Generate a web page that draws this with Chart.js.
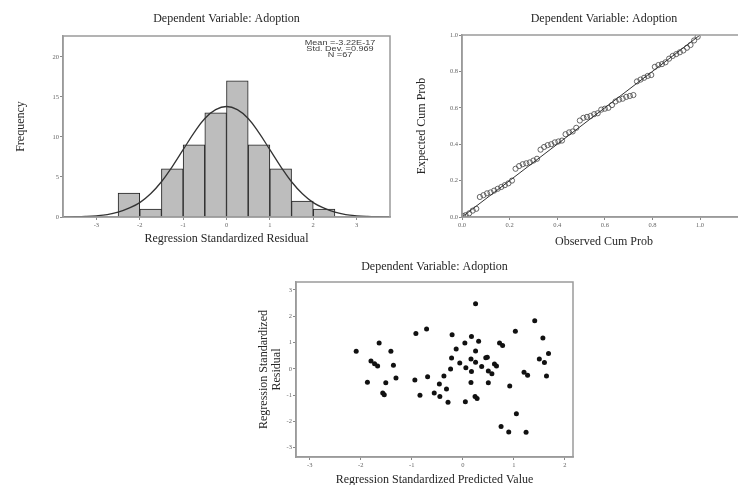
<!DOCTYPE html>
<html><head><meta charset="utf-8">
<script src="https://cdn.jsdelivr.net/npm/chart.js@4.4.0/dist/chart.umd.min.js"></script>
<style>
html,body{margin:0;padding:0;background:#fff;width:738px;height:485px;overflow:hidden;position:relative}
canvas{position:absolute}
</style></head><body>
<canvas id="c1" width="400" height="250" style="left:0px;top:0px"></canvas>
<canvas id="c2" width="360" height="250" style="left:400px;top:0px"></canvas>
<canvas id="c3" width="340" height="240" style="left:240px;top:250px"></canvas>
<script>
// ---------- data ----------
const chartTitle = 'Dependent Variable: Adoption';

// Histogram of standardized residuals
const histBinCenters = [-2.25, -1.75, -1.25, -0.75, -0.25, 0.25, 0.75, 1.25, 1.75, 2.25];
const histCounts     = [3, 1, 6, 9, 13, 17, 9, 6, 2, 1];
const curveX = [-3.75,-3.5,-3.25,-3,-2.75,-2.5,-2.25,-2,-1.75,-1.5,-1.25,-1,-0.75,-0.5,-0.25,0,
                0.25,0.5,0.75,1,1.25,1.5,1.75,2,2.25,2.5,2.75,3,3.25,3.5,3.75];
const curveY = [0.01,0.03,0.07,0.15,0.3,0.6,1.1,1.8,2.9,4.4,6.3,8.4,10.5,12.3,13.4,13.8,
                13.4,12.3,10.5,8.4,6.3,4.4,2.9,1.8,1.1,0.6,0.3,0.15,0.07,0.03,0.01];
const histXTicks = [-3, -2, -1, 0, 1, 2, 3];
const histYTicks = [0, 5, 10, 15, 20];
const statsLines = ['Mean =-3.22E-17', 'Std. Dev. =0.969', 'N =67'];

// P-P plot
const ppObserved = [0.005,0.015,0.03,0.045,0.06,
  0.075,0.09,0.105,0.12,0.135,0.15,0.165,0.18,0.195,0.21,
  0.225,0.24,0.255,0.27,0.285,0.30,0.315,
  0.33,0.345,0.36,0.375,0.39,0.405,0.42,
  0.435,0.45,0.465,0.48,
  0.495,0.51,0.525,0.54,0.555,0.57,
  0.585,0.60,0.615,0.63,
  0.645,0.66,0.675,0.69,0.705,0.72,
  0.735,0.75,0.765,0.78,0.795,
  0.81,0.825,0.84,0.855,
  0.87,0.885,0.90,0.915,0.93,0.945,0.96,0.975,0.99];
const ppExpected = [0.005,0.01,0.02,0.035,0.045,
  0.11,0.12,0.13,0.135,0.145,0.155,0.165,0.175,0.185,0.2,
  0.265,0.28,0.29,0.295,0.30,0.31,0.32,
  0.37,0.385,0.395,0.40,0.41,0.415,0.42,
  0.455,0.465,0.47,0.49,
  0.53,0.545,0.55,0.555,0.565,0.57,
  0.59,0.595,0.60,0.615,
  0.635,0.645,0.65,0.66,0.665,0.67,
  0.745,0.755,0.765,0.775,0.78,
  0.825,0.835,0.84,0.85,
  0.87,0.885,0.895,0.905,0.915,0.93,0.945,0.97,0.99];
const ppTicks = [0, 0.2, 0.4, 0.6, 0.8, 1.0];

// Scatter: predicted vs residual
const predX = [-2.09,-1.64,-1.41,-1.80,-1.73,-1.67,-1.36,-1.87,-1.51,-1.31,-1.57,-1.54,
  -0.92,-0.71,-0.94,-0.69,-0.84,-0.56,
  0.25,1.41,1.03,-0.21,0.17,1.57,0.04,0.31,0.72,0.78,-0.13,0.25,1.68,-0.22,0.16,0.45,0.48,1.50,
  -0.06,0.25,0.37,0.62,0.66,1.60,-0.24,0.06,0.17,0.50,0.57,1.20,1.27,1.64,
  -0.37,-0.46,-0.32,0.16,0.50,0.92,-0.45,-0.29,0.05,0.24,0.28,1.05,0.75,0.90,1.24];
const residY = [0.67,0.98,0.67,0.30,0.19,0.11,0.14,-0.51,-0.53,-0.35,-0.92,-0.98,
  1.34,1.51,-0.42,-0.30,-1.00,-0.92,
  2.47,1.83,1.43,1.30,1.23,1.17,0.98,1.05,0.98,0.89,0.75,0.68,0.58,0.41,0.37,0.42,0.44,0.37,
  0.22,0.25,0.09,0.18,0.11,0.24,-0.01,0.04,-0.10,-0.08,-0.19,-0.13,-0.24,-0.27,
  -0.27,-0.58,-0.77,-0.52,-0.53,-0.65,-1.05,-1.27,-1.25,-1.05,-1.13,-1.71,-2.19,-2.40,-2.41];
const scXTicks = [-3, -2, -1, 0, 1, 2];
const scYTicks = [-3, -2, -1, 0, 1, 2, 3];

// ---------- styling helpers ----------
Chart.defaults.font.family = "'Liberation Serif', 'DejaVu Serif', serif";
Chart.defaults.animation = false;
const TXT = '#262626';
const boxPlugin = {
  id: 'box',
  afterDatasetsDraw(chart) {
    const a = chart.chartArea, c = chart.ctx;
    c.save(); c.strokeStyle = '#9a9a9a'; c.lineWidth = 1.5;
    c.strokeRect(a.left, a.top, a.right - a.left, a.bottom - a.top);
    c.restore();
  }
};
function setTicks(arr){ return s => { s.ticks = arr.map(v => ({value: v})); }; }
function axisBase(tickArr, fmt) {
  return {
    type: 'linear',
    offset: false,
    afterBuildTicks: setTicks(tickArr),
    grid: {drawOnChartArea: false, drawTicks: true, tickLength: 3, color: '#888', offset: false},
    border: {display: true, color: '#9a9a9a', width: 1.5},
    ticks: {font: {size: 6.5}, color: '#666', padding: 1, maxRotation: 0, autoSkip: false,
            callback: fmt || (v => String(v))}
  };
}
function titleOpt(pt, pb) {
  return {display: true, text: chartTitle, fullSize: false, color: TXT,
          font: {size: 12, weight: 'normal'}, padding: {top: pt, bottom: pb}};
}
const basePlugins = {legend: {display: false}, tooltip: {enabled: false}};

// ---------- Chart 1: histogram ----------
const statsPlugin = {
  id: 'stats',
  afterDraw(chart) {
    const c = chart.ctx; c.save();
    c.fillStyle = '#3a3a3a'; c.font = "7px 'Liberation Sans', sans-serif";
    c.textAlign = 'center'; c.textBaseline = 'middle';
    const x = chart.chartArea.right - 50, y0 = chart.chartArea.top + 7;
    c.translate(x, y0); c.scale(1.3, 1);
    statsLines.forEach((t, i) => c.fillText(t, 0, i * 6));
    c.restore();
  }
};
new Chart(document.getElementById('c1'), {
  type: 'bar',
  data: {
    datasets: [
      {type: 'line', order: 0, data: curveX.map((x, i) => ({x, y: curveY[i]})),
       borderColor: '#333', borderWidth: 1.3, pointRadius: 0, tension: 0.4, fill: false},
      {type: 'bar', order: 1, data: histBinCenters.map((x, i) => ({x, y: histCounts[i]})),
       backgroundColor: '#bdbdbd', borderColor: '#222', borderWidth: 1,
       barPercentage: 1, categoryPercentage: 1}
    ]
  },
  options: {
    responsive: false,
    layout: {padding: {left: 0, right: 10, top: 0, bottom: 0}},
    plugins: Object.assign({}, basePlugins, {title: titleOpt(12, 9.6)}),
    scales: {
      x: Object.assign(axisBase(histXTicks), {min: -3.77, max: 3.77,
        afterFit: s => { s.height = 33; },
        title: {display: true, text: 'Regression Standardized Residual', color: TXT,
                font: {size: 12}, padding: {top: 0, bottom: 4}}}),
      y: Object.assign(axisBase(histYTicks), {min: 0, max: 22.6,
        afterFit: s => { s.width = 63; },
        title: {display: true, text: 'Frequency', color: TXT,
                font: {size: 12}, padding: {top: 14, bottom: 0}}})
    }
  },
  plugins: [boxPlugin, statsPlugin]
});

// ---------- Chart 2: P-P plot ----------
new Chart(document.getElementById('c2'), {
  type: 'scatter',
  data: {
    datasets: [
      {type: 'line', data: [{x: 0, y: 0}, {x: 1, y: 1}], borderColor: '#333',
       borderWidth: 1, pointRadius: 0, fill: false},
      {data: ppObserved.map((x, i) => ({x, y: ppExpected[i]})), pointStyle: 'circle',
       pointRadius: 2.6, backgroundColor: 'rgba(255,255,255,0)', borderColor: '#555', borderWidth: 0.9}
    ]
  },
  options: {
    responsive: false,
    layout: {padding: {left: 0, right: 14, top: 0, bottom: 0}},
    plugins: Object.assign({}, basePlugins, {title: titleOpt(12, 8.6)}),
    scales: {
      x: Object.assign(axisBase(ppTicks, v => v.toFixed(1)), {min: 0, max: 1.193,
        afterFit: s => { s.height = 33; },
        title: {display: true, text: 'Observed Cum Prob', color: TXT,
                font: {size: 12}, padding: {top: 0, bottom: 1}}}),
      y: Object.assign(axisBase(ppTicks, v => v.toFixed(1)), {min: 0, max: 1,
        afterFit: s => { s.width = 62; },
        title: {display: true, text: 'Expected Cum Prob', color: TXT,
                font: {size: 12}, padding: {top: 15, bottom: 0}}})
    }
  },
  plugins: [boxPlugin]
});

// ---------- Chart 3: scatter ----------
new Chart(document.getElementById('c3'), {
  type: 'scatter',
  data: {
    datasets: [
      {data: predX.map((x, i) => ({x, y: residY[i]})), pointStyle: 'circle',
       pointRadius: 2.5, backgroundColor: '#111', borderColor: '#111', borderWidth: 0}
    ]
  },
  options: {
    responsive: false,
    layout: {padding: {left: 0, right: 7, top: 0, bottom: 0}},
    plugins: Object.assign({}, basePlugins, {title: titleOpt(10, 7.6)}),
    scales: {
      x: Object.assign(axisBase(scXTicks), {min: -3.27, max: 2.16,
        afterFit: s => { s.height = 33; },
        title: {display: true, text: 'Regression Standardized Predicted Value', color: TXT,
                font: {size: 12}, padding: {top: 0, bottom: 3}}}),
      y: Object.assign(axisBase(scYTicks), {min: -3.35, max: 3.3,
        afterFit: s => { s.width = 56; },
        title: {display: true, text: ['Regression Standardized', 'Residual'], color: TXT,
                font: {size: 12, lineHeight: 1.05}, padding: {top: 18, bottom: 0}}})
    }
  },
  plugins: [boxPlugin]
});
</script>
</body></html>
